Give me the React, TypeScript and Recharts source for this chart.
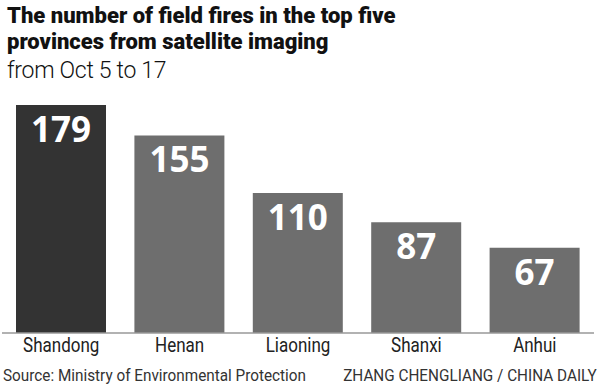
import React from "react";
import { BarChart, Bar, XAxis, YAxis, Cell, LabelList } from "recharts";

const provinces = ["Shandong", "Henan", "Liaoning", "Shanxi", "Anhui"];
const fires = [179, 155, 110, 87, 67];
const barColors = ["#333333", "#6e6e6e", "#6e6e6e", "#6e6e6e", "#6e6e6e"];

const data = provinces.map((name, i) => ({ name, value: fires[i] }));

const sans = "Roboto, 'Liberation Sans', sans-serif";

const NarrowTick = (props: any) => {
  const { x, y, payload } = props;
  return (
    <g transform={`translate(${x},${y})`}>
      <text transform="scale(0.85,1)" x={0} y={0} dy="0.71em" textAnchor="middle" fill="#222" fontSize={20} fontFamily={sans}>
        {payload.value}
      </text>
    </g>
  );
};

const titleLine: React.CSSProperties = {
  position: "absolute",
  left: 7,
  fontFamily: sans,
  fontWeight: 900,
  fontSize: 22,
  lineHeight: "24px",
  height: 24,
  color: "#111",
  letterSpacing: 0,
  whiteSpace: "nowrap",
};

const footText: React.CSSProperties = {
  position: "absolute",
  top: 366,
  fontFamily: sans,
  fontSize: 17,
  lineHeight: "19px",
  color: "#333",
  whiteSpace: "nowrap",
};

export default function App() {
  return (
    <div style={{ position: "absolute", left: 0, top: 0, width: 600, height: 385, background: "#fff", overflow: "hidden" }}>
      <div style={{ ...titleLine, top: 4 }}>The number of field fires in the top five</div>
      <div style={{ ...titleLine, top: 30 }}>provinces from satellite imaging</div>
      <div style={{ position: "absolute", left: 7, top: 58, fontFamily: sans, fontWeight: 300, fontSize: 23, lineHeight: "26px", color: "#111", letterSpacing: -0.3, whiteSpace: "nowrap" }}>
        from Oct 5 to 17
      </div>
      <BarChart width={600} height={385} data={data} margin={{ top: 105, right: 6, bottom: 22, left: 2 }}>
        <YAxis hide domain={[0, 179]} />
        <XAxis
          dataKey="name"
          height={30}
          axisLine={{ stroke: "#999", strokeWidth: 1.5 }}
          tickLine={false}
          tickSize={0}
          tickMargin={5}
          interval={0}
          tick={<NarrowTick />}
        />
        <Bar dataKey="value" barSize={90} isAnimationActive={false}>
          {data.map((d, i) => (
            <Cell key={d.name} fill={barColors[i]} />
          ))}
          <LabelList dataKey="value" position="insideTop" offset={12} fill="#fff" fontSize={35} fontWeight={700} fontFamily="'Open Sans', sans-serif" />
        </Bar>
      </BarChart>
      <div style={{ ...footText, left: 3, transform: "scaleX(0.9)", transformOrigin: "left center" }}>
        Source: Ministry of Environmental Protection
      </div>
      <div style={{ ...footText, right: 3, transform: "scaleX(0.9)", transformOrigin: "right center" }}>
        ZHANG CHENGLIANG / CHINA DAILY
      </div>
    </div>
  );
}
